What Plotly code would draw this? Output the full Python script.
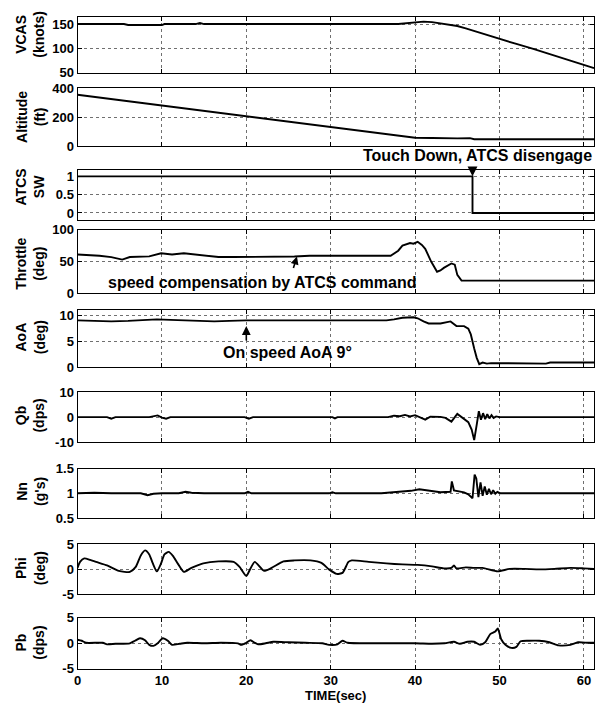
import plotly.graph_objects as go

# ---------------- data ----------------
x_ticks = [0, 10, 20, 30, 40, 50, 60]
x_range = [0, 61.2]
touchdown_t = 46.8

vcas_t = [0, 5.5, 6, 10, 10.3, 14, 14.5, 15, 38, 39, 40, 41, 42, 43, 44, 45, 46, 48, 50, 52, 54, 56, 58, 60, 61.2]
vcas_v = [150, 150, 148, 148, 150, 150, 152, 150, 150, 152, 154, 155, 154, 151, 149, 146, 141, 130, 120, 109, 99, 88, 77, 66, 59]

alt_t = [0, 10, 20, 30, 39, 40, 42, 44.3, 44.6, 45, 46.5, 47, 61.2]
alt_v = [355, 281, 207, 133, 66, 60, 58, 57, 52, 56, 57, 50, 50]

sw_t = [0, 46.8, 46.8, 61.2]
sw_v = [1, 1, 0, 0]

thr_t = [0, 1.5, 2.6, 4.0, 4.9, 5.3, 6.2, 7.5, 8.5, 9.9, 10.5, 11.2, 12.6, 13.8, 14.9, 16.7, 18.5, 20.3, 21.0, 22.1,
         23.0, 23.9, 25.7, 27.5, 30.7, 32, 34, 36.6, 37.1, 38.0, 38.5, 39.4, 39.8, 40.3, 40.8, 41.2, 41.9, 42.6, 43.0, 43.4,
         44.3, 44.7, 45.0, 45.5, 61.2]
thr_v = [61, 60, 59, 57, 55, 53, 57, 57, 58, 63, 62, 61, 63, 61, 59, 57, 57, 57, 58, 58,
         57, 57, 58, 59, 59, 58, 58, 58, 59, 67, 75, 79, 78, 81, 76, 70, 50, 34, 36, 40,
         47, 45, 29, 20, 20]

aoa_t = [0, 2, 4, 6, 8, 9.4, 11, 13, 16.2, 18, 20, 25, 30, 36.6, 37.5, 38.5, 39.8, 40.3, 41, 41.6,
         43, 43.7, 44.2, 44.9, 45.8, 46.3, 46.6, 47.0, 47.3, 47.6, 48.0, 48.5, 49, 55.5, 56, 61.2]
aoa_v = [9.0, 8.9, 8.8, 8.9, 9.0, 9.2, 9.1, 9.0, 8.8, 8.9, 9.0, 9.0, 9.0, 9.0, 9.2, 9.5, 9.6, 9.4, 8.8, 8.4,
         8.4, 8.7, 8.8, 7.9, 7.9, 7.4, 6.3, 3.6, 1.8, 0.6, 0.9, 0.7, 0.8, 0.7, 0.9, 0.9]

qb_t = [0, 3.5, 4.0, 4.5, 8.5, 9.0, 9.5, 10.0, 10.5, 11.0, 19.8, 20.3, 20.8, 30.2, 30.5, 30.8, 36.8, 37.5, 38.2, 38.8,
        39.4, 40.0, 40.6, 41.2, 41.8, 42.4, 43.0, 43.6, 44.3, 45.0, 45.7, 46.3, 46.7, 47.0, 47.3, 47.55, 47.8, 48.05, 48.3, 48.55,
        48.8, 49.05, 49.3, 49.6, 50.0, 61.2]
qb_v = [0, 0, -0.6, 0, 0, 0.3, 0.7, -0.2, -0.6, 0, 0, -0.6, 0, 0, -0.5, 0, 0, 0.6, 0.4, 0.9,
        0.3, 0.8, 0, -1.0, 0.2, 0.3, 0.1, -0.3, -1.8, 1.3, -0.6, -2.0, -5.0, -9.2, -3.0, 2.4, -1.0, 1.6, -0.8, 1.2,
        -0.5, 0.8, -0.3, 0.3, 0, 0]

nn_t = [0, 2, 4, 6, 7.5, 8.3, 9.0, 10, 12, 12.8, 13.5, 15, 19.8, 20.2, 20.6, 25, 29.8, 30.2, 30.6, 36,
        38, 39.5, 40.5, 41.5, 43, 44.2, 44.35, 44.6, 45, 45.8, 46.3, 46.8, 47.05, 47.25, 47.5, 47.75, 48.0, 48.25, 48.5, 48.75,
        49.0, 49.25, 49.5, 49.75, 50.1, 61.2]
nn_v = [1.0, 1.01, 1.0, 1.0, 1.0, 0.96, 0.99, 1.0, 1.0, 1.03, 1.01, 1.0, 1.0, 1.03, 1.0, 1.0, 1.0, 1.02, 1.0, 1.0,
        1.02, 1.05, 1.08, 1.05, 1.02, 1.03, 1.24, 1.06, 1.05, 1.02, 0.98, 0.9, 1.38, 1.3, 0.92, 1.22, 0.95, 1.14, 0.97, 1.09,
        0.98, 1.06, 0.99, 1.03, 1.0, 1.0]

phi_t = [0, 0.3, 0.8, 1.5, 2.2, 3.5, 4.9, 6.2, 6.9, 7.5, 8.0, 8.5, 8.9, 9.4, 9.9, 10.3, 10.8, 11.3, 11.9, 12.6,
         13.5, 14.9, 16.7, 18.5, 19.2, 20.0, 20.5, 21.0, 22.1, 23.0, 24.4, 25.7, 27.6, 28.9, 29.8, 30.7, 31.4, 32.1, 32.5, 34.5,
         36.6, 38.5, 40.3, 42, 43.4, 44.3, 44.6, 44.9, 46, 47, 48, 49.8, 51.2, 53, 54.7, 56.5, 58.4, 60, 61.2]
phi_v = [0.3, 1.5, 2.2, 1.9, 1.5, 0.8, -0.3, -0.5, 0.5, 2.8, 3.8, 3.0, 1.3, -0.4, 1.2, 3.0, 3.5, 2.7, 1.1, -0.5,
         0.3, 1.2, 1.6, 1.5, 0.5, -1.3, 0.2, 1.5, -0.3, 0.3, 1.6, 1.8, 1.8, 1.3, 0.0, -0.9, -0.7, 1.5, 1.8, 1.5,
         1.2, 1.0, 0.9, 0.6, 0.2, 0.3, 0.8, 0.2, 0.4, 0.3, 0.3, -0.4, 0.1, 0.1, 0.0, 0.1, 0.3, 0.2, 0.1]

pb_t = [0, 0.5, 1.0, 3.0, 3.5, 4.5, 6.2, 6.8, 7.4, 8.0, 8.5, 9.0, 9.5, 10.1, 10.7, 11.2, 12.1, 13, 15, 17,
        19.0, 19.4, 20.0, 20.5, 21.0, 21.4, 22.3, 23.2, 25, 27, 29.0, 29.8, 30.8, 31.4, 32, 35, 40, 42, 43.5, 44.6,
        45.3, 46.2, 47.0, 47.7, 48.3, 48.9, 49.5, 49.8, 50.2, 50.7, 51.4, 52.0, 52.5, 53.5, 54.7, 55.9, 57.0, 58.4, 59.3, 60.5,
        61.2]
pb_v = [0.7, 0.5, 0.1, 0.1, -0.2, -0.1, 0.0, 0.5, 1.0, 0.6, -0.3, -0.5, 0.0, 1.0, 0.5, -0.3, -0.1, 0.1, 0.0, 0.1,
        0.0, -0.3, 0.1, 0.6, 0.1, -0.2, 0.0, 0.3, 0.2, 0.1, 0.0, -0.3, -0.2, 0.5, 0.1, 0.0, 0.0, -0.1, 0.0, 0.3,
        -0.1, 0.3, 0.3, -0.3, 0.2, 1.8, 2.3, 2.9, 0.8, -0.3, -0.9, -0.7, 0.4, 0.5, 0.5, 0.2, -0.4, -0.3, 0.2, 0.1,
        0.1]

panel_labels = ["VCAS<br>(knots)", "Altitude<br>(ft)", "ATCS<br>SW", "Throttle<br>(deg)", "AoA<br>(deg)",
                "Qb<br>(dps)", "Nn<br>(g's)", "Phi<br>(deg)", "Pb<br>(dps)"]
y_ticks = [[50, 100, 150], [0, 200, 400], [0, 0.5, 1], [0, 50, 100], [0, 5, 10],
           [-10, 0, 10], [0.5, 1, 1.5], [-5, 0, 5], [-5, 0, 5]]
y_ticktext = [["50", "100", "150"], ["0", "200", "400"], ["0", "0.5", "1"], ["0", "50", "100"], ["0", "5", "10"],
              ["-10", "0", "10"], ["0.5", "1", "1.5"], ["-5", "0", "5"], ["-5", "0", "5"]]
y_ranges = [[50, 165], [0, 400], [-0.19, 1.16], [0, 100], [0, 10.9],
            [-10, 10], [0.5, 1.5], [-5, 5], [-5, 5]]

series = [(vcas_t, vcas_v), (alt_t, alt_v), (sw_t, sw_v), (thr_t, thr_v), (aoa_t, aoa_v),
          (qb_t, qb_v), (nn_t, nn_v), (phi_t, phi_v), (pb_t, pb_v)]

# ---------------- layout geometry (pixels) ----------------
W, H = 600, 712
plot_left, plot_right = 74, 594
panel_px = [(10, 67), (83, 142.5), (167, 217.5), (227.5, 292.5), (310, 368),
            (393.5, 444.5), (471.5, 522), (549, 600), (624, 676)]
label_center_px = [28, 112, 184, 262, 337, 417, 495, 573, 649]

FONT = "Arial, Liberation Sans, sans-serif"

fig = go.Figure()
for i, (t, v) in enumerate(series):
    n = i + 1
    shape = "spline" if i in (7, 8) else "linear"
    fig.add_trace(go.Scatter(
        x=t, y=v, mode="lines", xaxis=f"x{n}", yaxis=f"y{n}",
        line=dict(color="black", width=1.9, shape=shape, smoothing=0.6 if shape == "spline" else None),
        showlegend=False, hoverinfo="skip"))

layout = {}
for i in range(9):
    n = i + 1
    xs = "" if n == 1 else str(n)
    top, bot = panel_px[i]
    layout[f"xaxis{xs}"] = dict(
        domain=[plot_left / W, plot_right / W], anchor=f"y{n}", range=x_range,
        tickvals=x_ticks, showticklabels=(n == 9),
        ticks="inside", ticklen=4, tickcolor="black", mirror="ticks",
        showline=True, linecolor="black", linewidth=1,
        showgrid=True, gridcolor="#707070", griddash="dot", gridwidth=1,
        zeroline=False, tickfont=dict(family=FONT, size=13, color="black", weight="bold"))
    layout[f"yaxis{xs}"] = dict(
        domain=[1 - bot / H, 1 - top / H], anchor=f"x{n}", range=y_ranges[i],
        tickvals=y_ticks[i], ticktext=y_ticktext[i],
        ticks="inside", ticklen=4, tickcolor="black", mirror="ticks",
        showline=True, linecolor="black", linewidth=1,
        showgrid=True, gridcolor="#707070", griddash="dot", gridwidth=1,
        zeroline=False, tickfont=dict(family=FONT, size=13, color="black", weight="bold"))

annotations = []
for i, lab in enumerate(panel_labels):
    annotations.append(dict(
        text=lab, xref="paper", yref="paper", x=26.5 / W, y=1 - label_center_px[i] / H,
        xanchor="center", yanchor="middle", textangle=-90, showarrow=False,
        font=dict(family=FONT, size=14, color="black", weight="bold")))

# x title
annotations.append(dict(text="TIME(sec)", xref="paper", yref="paper",
                        x=(plot_left + plot_right) / 2 / W, y=1 - 703 / H,
                        xanchor="center", yanchor="middle", showarrow=False,
                        font=dict(family=FONT, size=13, color="black", weight="bold")))

# Touch down text + arrow
annotations.append(dict(text="Touch Down, ATCS disengage", xref="paper", yref="paper",
                        x=plot_right / W, y=1 - 152 / H, xanchor="right", yanchor="middle",
                        showarrow=False, font=dict(family=FONT, size=16, color="black", weight="bold")))
annotations.append(dict(text="", xref="x3", yref="y3", x=touchdown_t, y=1,
                        ax=0, ay=-10, showarrow=True, arrowhead=2, arrowsize=1.1,
                        arrowwidth=1.8, arrowcolor="black", standoff=0))

# Throttle note
annotations.append(dict(text="speed compensation by ATCS command", xref="x4", yref="y4",
                        x=21.9, y=16.5, xanchor="center", yanchor="middle", showarrow=False,
                        font=dict(family=FONT, size=16, color="black", weight="bold")))
annotations.append(dict(text="", xref="x4", yref="y4", x=26.0, y=58,
                        ax=-4, ay=13, showarrow=True, arrowhead=2, arrowsize=1,
                        arrowwidth=1.6, arrowcolor="black", standoff=0))

# AoA note
annotations.append(dict(text="On speed AoA 9°", xref="x5", yref="y5",
                        x=24.9, y=2.9, xanchor="center", yanchor="middle", showarrow=False,
                        font=dict(family=FONT, size=16, color="black", weight="bold")))
annotations.append(dict(text="", xref="x5", yref="y5", x=20, y=7.9,
                        ax=0, ay=16, showarrow=True, arrowhead=2, arrowsize=1.1,
                        arrowwidth=1.6, arrowcolor="black", standoff=0))

fig.update_layout(**layout)
fig.update_layout(width=W, height=H, margin=dict(l=0, r=0, t=0, b=0),
                  paper_bgcolor="white", plot_bgcolor="white",
                  annotations=annotations, showlegend=False)

fig.write_html("out.html")
